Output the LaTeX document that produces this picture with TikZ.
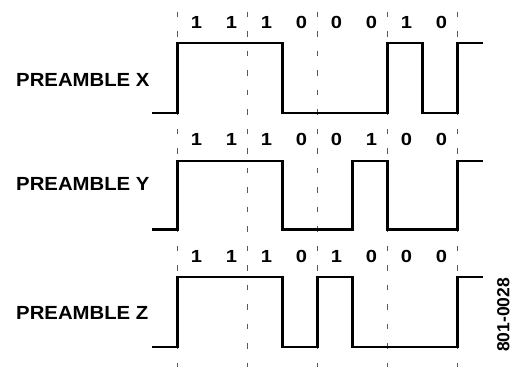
\documentclass[tikz,border=0pt]{standalone}
\usepackage{fontspec}
\setmainfont{Liberation Sans}
\begin{document}
\begin{tikzpicture}[x=1pt,y=-1pt,
  wave/.style={line width=2.1pt, line join=miter, line cap=rect},
  gridline/.style={black!65, line width=1pt, dash pattern=on 5.5pt off 14pt},
  bit/.style={font=\bfseries\fontsize{17.5}{17.5}\selectfont, inner sep=0pt, anchor=base, xscale=1.15},
  plabel/.style={font=\bfseries\fontsize{19}{19}\selectfont, inner sep=0pt, anchor=base west, xscale=1.07},
  figid/.style={font=\bfseries\fontsize{17.5}{17.5}\selectfont, inner sep=0pt, rotate=90}]
\useasboundingbox (0,0) rectangle (519,367);
% dashed bit boundaries
\foreach \x in {177.5,247.5,317.5,387.5,457.5}
  \draw[gridline] (\x,11.7) -- (\x,367);
% labels
\node[plabel] (lx) at (16,86.7) {PREAMBLE X};
\node[plabel] (ly) at (16,190.7) {PREAMBLE Y};
\node[plabel] (lz) at (16,319.2) {PREAMBLE Z};
\node[figid] (id) at (503.3,315) {801-0028};
% bits
\foreach \b [count=\i] in {1,1,1,0,0,0,1,0}
  \node[bit] (bx\i) at ({177.5+35*(\i-1)+19},28.6) {\b};
\foreach \b [count=\i] in {1,1,1,0,0,1,0,0}
  \node[bit] (by\i) at ({177.5+35*(\i-1)+19},145.2) {\b};
\foreach \b [count=\i] in {1,1,1,0,1,0,0,0}
  \node[bit] (bz\i) at ({177.5+35*(\i-1)+19},262) {\b};
% waveforms
\def\hi{42.7}\def\lo{113}
\draw[wave] (153,\lo) -- (177.5,\lo) -- (177.5,\hi) -- (282.5,\hi) -- (282.5,\lo) -- (387.5,\lo) -- (387.5,\hi) -- (422.5,\hi) -- (422.5,\lo) -- (457.5,\lo) -- (457.5,\hi) -- (482,\hi);
\def\hi{160.7}\def\lo{229.5}
\draw[wave] (153,\lo) -- (177.5,\lo) -- (177.5,\hi) -- (282.5,\hi) -- (282.5,\lo) -- (352.5,\lo) -- (352.5,\hi) -- (387.5,\hi) -- (387.5,\lo) -- (457.5,\lo) -- (457.5,\hi) -- (482,\hi);
\def\hi{277.3}\def\lo{347}
\draw[wave] (153,\lo) -- (177.5,\lo) -- (177.5,\hi) -- (282.5,\hi) -- (282.5,\lo) -- (317.5,\lo) -- (317.5,\hi) -- (352.5,\hi) -- (352.5,\lo) -- (457.5,\lo) -- (457.5,\hi) -- (482,\hi);
\end{tikzpicture}
\end{document}
